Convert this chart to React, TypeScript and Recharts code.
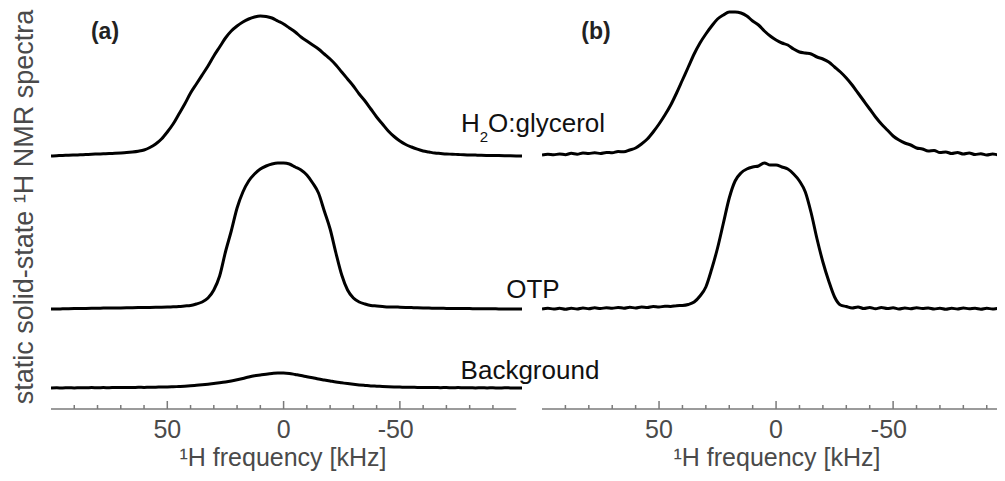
import React from "react"
import { LineChart, Line, XAxis, YAxis, ReferenceLine } from "recharts"

// frequency grid (kHz), shared by both panels
const FREQ = [
  100, 97.5, 95, 92.5, 90, 87.5, 85, 82.5, 80, 77.5,
  75, 72.5, 70, 67.5, 65, 62.5, 60, 57.5, 55, 52.5,
  50, 47.5, 45, 42.5, 40, 37.5, 35, 32.5, 30, 27.5,
  25, 22.5, 20, 17.5, 15, 12.5, 10, 7.5, 5, 2.5,
  0, -2.5, -5, -7.5, -10, -12.5, -15, -17.5, -20, -22.5,
  -25, -27.5, -30, -32.5, -35, -37.5, -40, -42.5, -45, -47.5,
  -50, -52.5, -55, -57.5, -60, -62.5, -65, -67.5, -70, -72.5,
  -75, -77.5, -80, -82.5, -85, -87.5, -90, -92.5, -95, -97.5,
  -100, -102.5,
]

// panel (a)
const GLYC_A = [
  0, 0.3, 0.5, 0.8, 1, 1.2, 1.5, 1.7, 2, 2.2,
  2.5, 2.7, 3, 3.4, 4, 4.8, 6, 8.5, 12, 17,
  24, 32, 42, 52, 63, 72, 81, 90, 100, 109,
  118, 125, 130, 134, 137, 139, 140, 139.5, 138, 135,
  132, 128, 124, 119, 115, 111, 107, 102, 97, 91,
  84, 77, 70, 62, 55, 47, 39, 32, 25, 19.5,
  15, 11.5, 9, 6.8, 5, 4, 3, 2.5, 2, 1.8,
  1.5, 1.2, 1, 0.9, 0.7, 0.6, 0.5, 0.4, 0.3, 0.2,
  0.1, 0,
]
const OTP_A = [
  0, 0, 0.2, 0.3, 0.4, 0.5, 0.6, 0.7, 0.8, 0.9,
  1, 1, 1.1, 1.2, 1.3, 1.4, 1.5, 1.6, 1.7, 1.8,
  2, 2.2, 2.5, 3, 3.5, 5, 7, 11, 19, 33,
  57, 78, 101, 117, 128, 135, 140, 143, 145, 146,
  146, 145, 142, 139, 134, 126, 116, 98, 80, 56,
  34, 19, 11, 7, 5, 3.5, 3, 2.5, 2, 2,
  1.8, 1.6, 1.4, 1.2, 1, 0.9, 0.8, 0.7, 0.6, 0.5,
  0.5, 0.4, 0.4, 0.3, 0.3, 0.2, 0.2, 0.1, 0.1, 0,
  0, 0,
]
const BG_A = [
  0, 0.2, 0, 0.3, 0.1, 0.3, 0.2, 0.4, 0.2, 0.4,
  0.3, 0.5, 0.4, 0.6, 0.5, 0.7, 0.6, 0.8, 0.8, 1,
  1, 1.2, 1.5, 1.8, 2.2, 2.7, 3.2, 3.8, 4.5, 5.2,
  6, 7, 8.2, 9.5, 11, 12.2, 13, 13.8, 14.5, 15,
  15, 14.5, 13.5, 12.5, 11.3, 10.2, 9, 8, 7, 6,
  5.2, 4.4, 3.7, 3.1, 2.6, 2.1, 1.8, 1.5, 1.2, 1,
  0.9, 0.7, 0.8, 0.5, 0.6, 0.4, 0.5, 0.3, 0.5, 0.2,
  0.4, 0.2, 0.3, 0.1, 0.3, 0.1, 0.2, 0, 0.2, 0.1,
  0, 0.1,
]

// panel (b)
const GLYC_B = [
  0, 0.8, 0.2, 1, 0.3, 1.7, 0.8, 2, 1.4, 2.3,
  1.5, 2.6, 2.2, 3.5, 3.2, 5, 7, 11, 16, 23,
  31, 40, 50, 62, 75, 88, 101, 112, 121, 129,
  136, 140, 143, 143, 142, 139, 134, 130, 124, 119,
  115, 112, 110, 106, 103, 102, 101, 98, 96, 93,
  88, 83, 77, 70, 62, 54, 46, 38, 31, 25,
  19, 15, 12, 10, 7, 6, 4, 4.5, 2.5, 3,
  1.5, 2.5, 1, 2, 0.5, 1.3, 0, 1, 0.2, 1,
  0, 0.5,
]
const OTP_B = [
  0, 0.8, 0, 0.7, -0.3, 0.8, 0, 1, 0.2, 1.2,
  0.5, 1.3, 0.7, 1.5, 0.8, 1.8, 1, 2, 1.5, 2.5,
  2, 2.8, 2.5, 3.3, 3.5, 4.5, 7, 13, 22, 40,
  61, 86, 111, 128, 136, 140, 142, 143, 146, 144,
  144, 142, 140, 135, 128, 117, 96, 70, 47, 28,
  12, 4, 2.5, 1, 2, 0.5, 1.5, 0.3, 1.5, 0.5,
  1.2, 0, 1, 0.2, 1.3, 0.4, 1, 0, 0.8, -0.3,
  0.8, 0, 1, 0.2, 0.7, -0.2, 0.8, 0, 0.6, 0,
  0.5, 0,
]

const TICKS = [90, 80, 70, 60, 50, 40, 30, 20, 10, 0, -10, -20, -30, -40, -50, -60, -70, -80, -90]

// vertical stacking of the spectra (baseline heights above the axis)
const OFFSET = { glyc: 253, otp: 100, bg: 21 }

const tableA = FREQ.map((f, i) => ({
  f,
  glyc: GLYC_A[i] + OFFSET.glyc,
  otp: OTP_A[i] + OFFSET.otp,
  bg: BG_A[i] + OFFSET.bg,
}))
const tableB = FREQ.map((f, i) => ({
  f,
  glyc: GLYC_B[i] + OFFSET.glyc + 1,
  otp: OTP_B[i] + OFFSET.otp,
}))

const AXIS_GREY = "#7a7a7a"
const TEXT_GREY = "#4a4a4a"
const INK = "#111"
const FONT = "'Liberation Sans', Arial, sans-serif"

const FreqTick = (props: any) => {
  const { x, y, payload } = props
  const v = payload.value as number
  const major = v % 50 === 0
  const digits = String(Math.abs(v))
  return (
    <g>
      <line x1={x} x2={x} y1={y - (major ? 8 : 4)} y2={y} stroke={AXIS_GREY} strokeWidth={1.5} />
      {major && (
        <text
          x={x + (digits.length * 0.556 * 25) / 2}
          y={y + 29}
          textAnchor="end"
          fontSize={25}
          fontFamily={FONT}
          fill={TEXT_GREY}
        >
          {v}
        </text>
      )}
    </g>
  )
}

const lineProps = {
  type: "monotone" as const,
  stroke: "#000",
  strokeWidth: 3,
  dot: false,
  isAnimationActive: false,
  strokeLinejoin: "round" as const,
}

function Panel({ data, width, left, right, series }: any) {
  return (
    <LineChart width={width} height={481} data={data} margin={{ top: 0, right, bottom: 0, left }}>
      <XAxis
        dataKey="f"
        type="number"
        domain={[-102.5, 100]}
        reversed
        ticks={TICKS}
        interval={0}
        axisLine={false}
        tickLine={false}
        tickSize={0}
        tickMargin={0}
        tick={FreqTick}
        height={72}
        allowDataOverflow
      />
      <YAxis hide type="number" domain={[0, 409]} allowDataOverflow />
      <ReferenceLine
        segment={[{ x: 100, y: 0 }, { x: -100, y: 0 }]}
        stroke={AXIS_GREY}
        strokeWidth={1.5}
      />
      {series.map((k: string) => (
        <Line key={k} dataKey={k} {...lineProps} />
      ))}
    </LineChart>
  )
}

export default function App() {
  return (
    <div
      style={{
        position: "relative",
        width: 1005,
        height: 481,
        margin: -8,
        overflow: "hidden",
        background: "#fff",
        fontFamily: FONT,
      }}
    >
      <div style={{ position: "absolute", left: 0, top: 0 }}>
        <Panel data={tableA} width={1005} left={51} right={483} series={["glyc", "otp", "bg"]} />
      </div>
      <div style={{ position: "absolute", left: 0, top: 0 }}>
        <Panel data={tableB} width={1020} left={542} right={4} series={["glyc", "otp"]} />
      </div>
      <svg
        width={1005}
        height={481}
        style={{ position: "absolute", left: 0, top: 0, pointerEvents: "none" }}
        fontFamily={FONT}
      >
        <text transform="rotate(-90)" x={-207} y={33} textAnchor="middle" fontSize={27} fill={TEXT_GREY}>
          static solid-state ¹H NMR spectra
        </text>
        <text x={105} y={39} textAnchor="middle" fontSize={23} fontWeight="bold" fill="#222">(a)</text>
        <text x={596} y={39} textAnchor="middle" fontSize={23} fontWeight="bold" fill="#222">(b)</text>
        <text x={533} y={132} textAnchor="middle" fontSize={26} fill={INK}>
          H<tspan fontSize={15} dy={10}>2</tspan>
          <tspan dy={-10}>O:glycerol</tspan>
        </text>
        <text x={533} y={298} textAnchor="middle" fontSize={26} fill={INK}>OTP</text>
        <text x={530} y={379} textAnchor="middle" fontSize={26} fill={INK}>Background</text>
        <text x={283} y={466} textAnchor="middle" fontSize={25} fill={TEXT_GREY}>¹H frequency [kHz]</text>
        <text x={777} y={466} textAnchor="middle" fontSize={25} fill={TEXT_GREY}>¹H frequency [kHz]</text>
      </svg>
    </div>
  )
}
